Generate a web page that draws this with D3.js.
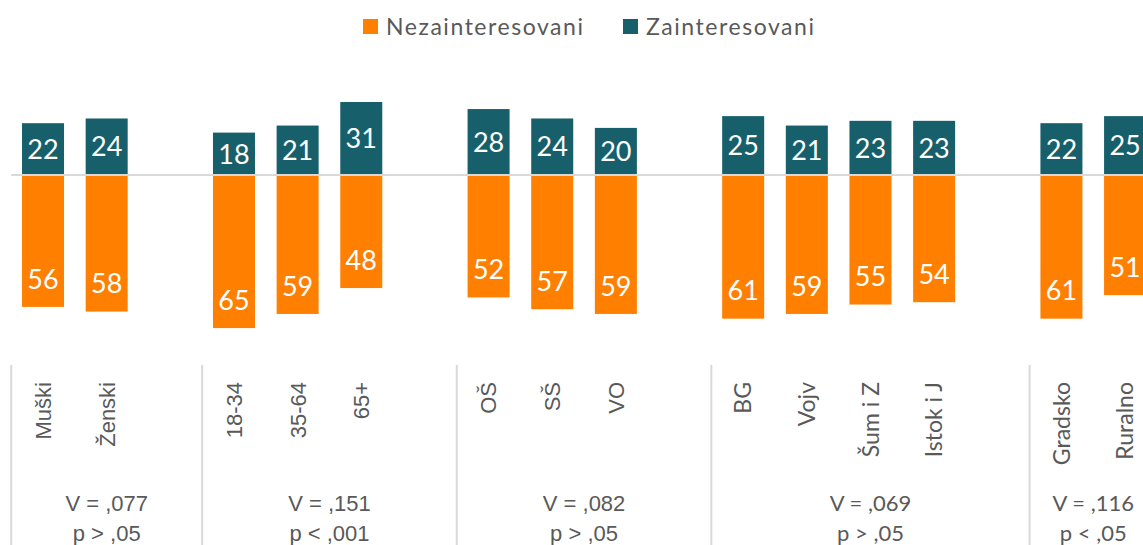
<!DOCTYPE html>
<html>
<head>
<meta charset="utf-8">
<script src="https://cdn.jsdelivr.net/npm/d3@7"></script>
<style>
  body { margin: 0; background: #fff; }
  svg { display: block; }
</style>
</head>
<body>
<div class="chart"></div>
<script>
// categories, blank slots keep the gap between groups
const categories = ["Muški", "Ženski", "", "18-34", "35-64", "65+", "", "OŠ", "SŠ", "VO", "",
  "BG", "Vojv", "Šum i Z", "Istok i J", "", "Gradsko", "Ruralno"];
const zainteresovani = [22, 24, null, 18, 21, 31, null, 28, 24, 20, null, 25, 21, 23, 23, null, 22, 25];
const nezainteresovani = [56, 58, null, 65, 59, 48, null, 52, 57, 59, null, 61, 59, 55, 54, null, 61, 51];

// groups: first and last slot (end exclusive)
const groupStart = [0, 3, 7, 11, 16];
const groupEnd = [3, 7, 11, 16, 18];
const groupV = ["V = ,077", "V = ,151", "V = ,082", "V = ,069", "V = ,116"];
const groupP = ["p > ,05", "p < ,001", "p > ,05", "p > ,05", "p < ,05"];

const seriesNames = ["Nezainteresovani", "Zainteresovani"];
const colors = { neg: "#ff7f00", pos: "#17606b" };

let width = 1143,
  height = 545,
  x0 = 11.2,
  step = 63.65;

const arial = "'Liberation Sans', Arial, sans-serif";
const lato = "Lato, 'Noto Sans', sans-serif";
const textColor = "#595959";

let svg = d3.select(".chart").append("svg")
  .attr("width", width)
  .attr("height", height);

let x = d3.scaleBand()
  .domain(d3.range(categories.length))
  .range([x0, x0 + step * categories.length])
  .paddingInner(0.34)
  .paddingOuter(0.17);

let y = d3.scaleLinear()
  .domain([-70, 40])
  .range([175 + 70 * 2.355, 175 - 40 * 2.355]);

// legend
let legend = svg.append("g");
let legendItems = [
  { name: seriesNames[0], color: colors.neg, x: 363, w: 197 },
  { name: seriesNames[1], color: colors.pos, x: 623, w: 168 }
];
legendItems.forEach((d) => {
  legend.append("rect")
    .attr("x", d.x).attr("y", 19)
    .attr("width", 15).attr("height", 15)
    .attr("fill", d.color);
  legend.append("text")
    .attr("x", d.x + 23).attr("y", 35)
    .attr("font-family", lato)
    .attr("font-size", "23px")
    .attr("textLength", d.w)
    .attr("fill", textColor)
    .text(d.name);
});

const idx = d3.range(categories.length);

// bars
svg.append("g").selectAll("rect")
  .data(idx.filter((i) => nezainteresovani[i] != null))
  .join("rect")
  .attr("x", (i) => x(i))
  .attr("width", x.bandwidth())
  .attr("y", y(0))
  .attr("height", (i) => y(-nezainteresovani[i]) - y(0))
  .attr("fill", colors.neg);

svg.append("g").selectAll("rect")
  .data(idx.filter((i) => zainteresovani[i] != null))
  .join("rect")
  .attr("x", (i) => x(i))
  .attr("width", x.bandwidth())
  .attr("y", (i) => y(zainteresovani[i]))
  .attr("height", (i) => y(0) - y(zainteresovani[i]))
  .attr("fill", colors.pos);

// zero line
svg.append("line")
  .attr("x1", x0).attr("x2", width)
  .attr("y1", y(0)).attr("y2", y(0))
  .attr("stroke", "#d9d9d9")
  .attr("stroke-width", 2);

// value labels
svg.append("g").selectAll("text")
  .data(idx.filter((i) => zainteresovani[i] != null))
  .join("text")
  .attr("x", (i) => x(i) + x.bandwidth() / 2)
  .attr("y", (i) => (y(zainteresovani[i]) + y(0)) / 2)
  .attr("dy", "0.36em")
  .attr("text-anchor", "middle")
  .attr("font-family", lato)
  .attr("font-size", "27px")
  .attr("fill", "#fff")
  .text((i) => zainteresovani[i]);

svg.append("g").selectAll("text")
  .data(idx.filter((i) => nezainteresovani[i] != null))
  .join("text")
  .attr("x", (i) => x(i) + x.bandwidth() / 2)
  .attr("y", (i) => y(-nezainteresovani[i]) - 28)
  .attr("dy", "0.36em")
  .attr("text-anchor", "middle")
  .attr("font-family", lato)
  .attr("font-size", "27px")
  .attr("fill", "#fff")
  .text((i) => nezainteresovani[i]);

// group index for each category
const groupOf = (i) => groupStart.findIndex((s, g) => i >= s && i < groupEnd[g]);

// category labels, rotated
svg.append("g").selectAll("text")
  .data(idx.filter((i) => categories[i] !== ""))
  .join("text")
  .attr("transform", (i) => "translate(" + (x(i) + x.bandwidth() / 2) + ",382) rotate(-90)")
  .attr("text-anchor", "end")
  .attr("dy", "0.36em")
  .attr("font-family", (i) => groupOf(i) < 3 ? arial : lato)
  .attr("font-size", (i) => groupOf(i) < 3 ? "22px" : "23px")
  .attr("fill", textColor)
  .text((i) => categories[i]);

// group separators
svg.append("g").selectAll("line")
  .data(groupStart)
  .join("line")
  .attr("x1", (s) => x0 + s * step)
  .attr("x2", (s) => x0 + s * step)
  .attr("y1", 365).attr("y2", height)
  .attr("stroke", "#d9d9d9")
  .attr("stroke-width", 2);

// group statistics
let groups = svg.append("g").selectAll("g")
  .data(d3.range(groupStart.length))
  .join("g")
  .attr("transform", (g) => "translate(" + (x0 + (groupStart[g] + groupEnd[g]) / 2 * step) + ",0)")
  .attr("text-anchor", "middle")
  .attr("font-family", (g) => g < 3 ? arial : lato)
  .attr("font-size", "22px")
  .attr("fill", textColor);

groups.append("text").attr("y", 511).text((g) => groupV[g]);
groups.append("text").attr("y", 541).text((g) => groupP[g]);
</script>
</body>
</html>
